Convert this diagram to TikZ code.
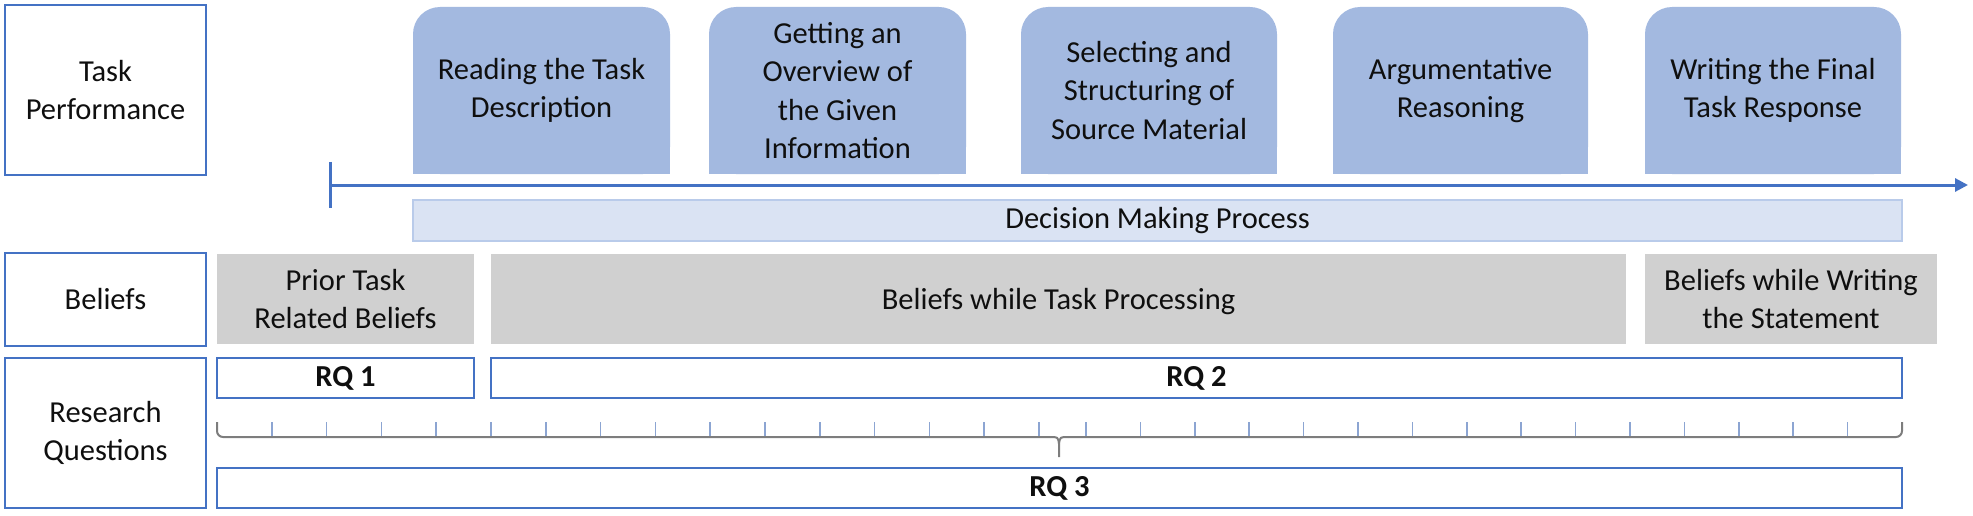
\documentclass[tikz,border=0pt]{standalone}
\usepackage{fontspec}
\setmainfont{Carlito}
\usetikzlibrary{arrows.meta}
\definecolor{boxblue}{RGB}{163,185,224}
\definecolor{edgeblue}{RGB}{68,114,196}
\definecolor{barfill}{RGB}{218,227,243}
\definecolor{baredge}{RGB}{185,203,234}
\definecolor{graybox}{RGB}{208,208,208}
\definecolor{rulergray}{RGB}{125,125,125}
\definecolor{tickblue}{RGB}{140,165,210}
\definecolor{txt}{RGB}{15,15,15}
\begin{document}
\begin{tikzpicture}[x=1pt,y=-1pt,
  every node/.style={font=\fontsize{30.5}{38.5}\selectfont, text=txt, align=center, inner sep=0pt, outer sep=0pt},
  labelbox/.style={draw=edgeblue, line width=2pt, fill=white, minimum width=201pt},
  stepbox/.style={minimum width=257pt, minimum height=167pt,
    execute at begin node={\rule{0pt}{33pt}},
    path picture={
      \fill[boxblue, rounded corners=27pt] (path picture bounding box.north west) rectangle (path picture bounding box.south east);
      \fill[boxblue] (path picture bounding box.west) rectangle (path picture bounding box.south east);
    }},
  barbox/.style={fill=barfill, draw=baredge, line width=2pt},
  graybox/.style={fill=graybox, minimum height=90pt},
  rqbox/.style={draw=edgeblue, line width=2.5pt, fill=white, minimum height=40pt, font=\fontsize{30.5}{38.5}\selectfont\bfseries},
  timeline/.style={draw=edgeblue, line width=3pt},
  rulerline/.style={draw=rulergray, line width=2pt},
  tickline/.style={draw=tickblue, line width=1.6pt}
]
\useasboundingbox (0,0) rectangle (1973,516);

% left labels
\node[labelbox, minimum height=170pt] (tp) at (105.5,90) {Task\\Performance};
\node[labelbox, minimum height=93pt] (bel) at (105.5,299.5) {Beliefs};
\node[labelbox, minimum height=150pt] (rq) at (105.5,433) {Research\\Questions};

% process steps
\node[stepbox] (s1) at (541.5,90.5) {Reading the Task\\Description};
\node[stepbox] (s2) at (837.5,90.5) {Getting an\\Overview of\\the Given\\Information};
\node[stepbox, minimum width=256pt] (s3) at (1149,90.5) {Selecting and\\Structuring of\\Source Material};
\node[stepbox, minimum width=255pt] (s4) at (1460.5,90.5) {Argumentative\\Reasoning};
\node[stepbox, minimum width=256pt] (s5) at (1773,90.5) {Writing the Final\\Task Response};

% timeline
\coordinate (tstart) at (330,185);
\coordinate (ttop) at (330,162);
\coordinate (tbot) at (330,208);
\coordinate (tend) at (1968,185);
\draw[timeline] (ttop) -- (tbot);
\draw[timeline, -{Triangle[length=13pt,width=13pt]}] (tstart) -- (tend);

% decision bar
\node[barbox, minimum width=1489pt, minimum height=41pt] (dm) at (1157.5,220.5) {\raisebox{-2pt}{Decision Making Process}};

% beliefs
\node[graybox, minimum width=257pt] (b1) at (345.5,299) {Prior Task\\Related Beliefs};
\node[graybox, minimum width=1135pt, text depth=0pt] (b2) at (1058.5,299) {Beliefs while Task Processing};
\node[graybox, minimum width=292pt] (b3) at (1791,299) {Beliefs while Writing\\the Statement};

% research questions
\node[rqbox, minimum width=257pt] (rq1) at (345.5,378) {RQ 1};
\node[rqbox, minimum width=1411pt] (rq2) at (1196.5,378) {RQ 2};
\node[rqbox, minimum width=1685pt] (rq3) at (1059.5,488) {RQ 3};

% ruler
\coordinate (rl) at (217,422);
\coordinate (rr) at (1902,422);
\coordinate (rml) at (1050,437);
\coordinate (rmr) at (1068,437);
\coordinate (rtip) at (1059,457);
\foreach \k in {1,...,15} {
  \draw[tickline] (217+54.8*\k,422) -- ++(0,15);
  \draw[tickline] (1902-54.4*\k,422) -- ++(0,15);
}
\draw[rulerline, rounded corners=6pt] (rl) -- (217,437) -- (rml);
\draw[rulerline, rounded corners=6pt] (rr) -- (1902,437) -- (rmr);
\draw[rulerline] (rml) .. controls (1058,437) .. (1059,444) -- (rtip);
\draw[rulerline] (rmr) .. controls (1060,437) .. (1059,444);
\end{tikzpicture}
\end{document}
